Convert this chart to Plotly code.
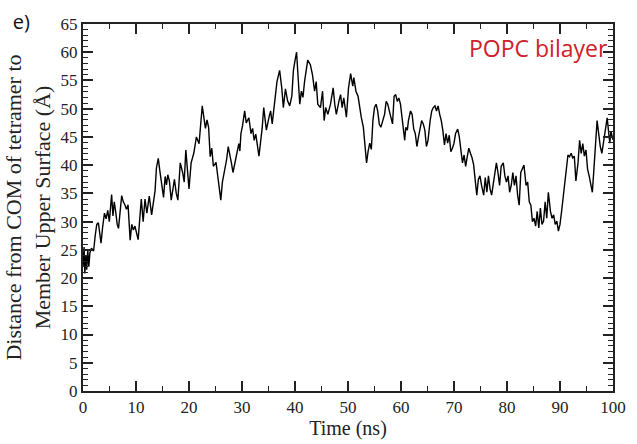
import plotly.graph_objects as go

# Time (ns) and distance (Å)
time_ns = [
    0.0, 0.2, 0.35, 0.55, 0.7, 0.9, 1.1, 1.3, 1.6, 2.0, 2.3, 2.6, 2.9, 3.1, 3.4, 3.7, 4.05, 4.36, 4.67, 4.97,
    5.4, 5.65, 5.9, 6.2, 6.45, 6.7, 7.0, 7.3, 7.6, 7.9, 8.2, 8.5, 8.9, 9.2, 9.5, 9.8, 10.1, 10.4, 10.75, 11.0,
    11.35, 11.7, 12.05, 12.5, 12.95, 13.3, 13.6, 13.85, 14.0, 14.2, 14.5, 14.8, 15.2, 15.5, 15.75, 16.0, 16.3, 16.65,
    17.25, 17.6, 17.9, 18.35, 18.8, 19.1, 19.4, 20.0, 20.4, 20.9, 21.4, 21.9, 22.2, 22.5, 22.8, 23.1, 23.4, 23.7,
    24.0, 24.3, 24.6, 25.1, 25.5, 26.0, 26.3, 26.8, 27.1, 27.4, 27.7, 28.0, 28.3, 28.6, 28.9, 29.4, 29.6, 29.8,
    30.1, 30.5, 30.8, 31.3, 31.7, 32.0, 32.3, 32.6, 33.2, 33.5, 33.8, 34.1, 34.6, 35.1, 35.4, 35.7, 36.2, 36.6,
    37.1, 37.5, 37.8, 38.2, 38.6, 39.0, 39.4, 39.7, 40.0, 40.3, 40.6, 40.9, 41.2, 41.5, 41.8, 42.1, 42.4, 42.9,
    43.3, 43.7, 44.0, 44.3, 44.8, 45.2, 45.5, 45.8, 46.2, 46.7, 47.2, 47.5, 47.8, 48.3, 48.6, 48.9, 49.2, 49.7,
    50.1, 50.5, 50.9, 51.1, 51.5, 51.9, 52.2, 52.5, 52.9, 53.2, 53.5, 53.8, 54.1, 54.4, 54.7, 55.0, 55.3, 55.6,
    55.9, 56.2, 56.5, 56.9, 57.2, 57.5, 57.8, 58.1, 58.4, 58.7, 59.0, 59.3, 59.6, 59.9, 60.2, 60.5, 60.7, 60.9,
    61.2, 61.4, 61.8, 62.1, 62.4, 62.7, 63.0, 63.3, 63.6, 63.9, 64.2, 64.5, 64.8, 65.1, 65.5, 65.8, 66.1, 66.4,
    66.7, 67.0, 67.3, 67.6, 67.9, 68.2, 68.5, 68.8, 69.1, 69.4, 69.7, 70.0, 70.3, 70.7, 71.0, 71.3, 71.6, 71.9,
    72.2, 72.5, 72.8, 73.1, 73.4, 73.7, 74.0, 74.3, 74.6, 74.9, 75.2, 75.6, 75.9, 76.2, 76.5, 76.8, 77.1, 77.4,
    77.7, 78.0, 78.3, 78.6, 78.9, 79.3, 79.6, 79.9, 80.2, 80.5, 80.8, 81.1, 81.4, 81.7, 82.0, 82.3, 82.6, 82.9,
    83.2, 83.6, 83.9, 84.2, 84.5, 84.8, 85.1, 85.4, 85.7, 86.0, 86.3, 86.6, 86.9, 87.2, 87.5, 87.8, 88.2, 88.5,
    88.8, 89.1, 89.4, 89.7, 90.0, 90.3, 90.6, 90.9, 91.2, 91.5, 91.8, 92.1, 92.4, 92.7, 93.0, 93.4, 93.7, 94.0,
    94.3, 94.6, 94.9, 95.2, 95.5, 95.8, 96.1, 96.4, 96.7, 97.0, 97.3, 97.6, 97.9, 98.2, 98.6, 98.9, 99.2, 99.4,
    99.6, 100.0,
]
distance_A = [
    22.0, 25.5, 20.8, 24.0, 21.5, 25.0, 22.0, 24.5, 25.3, 24.8, 27.5, 29.5, 29.8, 28.0, 26.2, 29.0, 31.5, 30.5, 32.0, 30.0,
    34.8, 31.0, 33.5, 31.5, 29.5, 28.8, 31.5, 34.6, 33.5, 33.0, 32.2, 33.0, 26.7, 29.5, 28.5, 29.2, 28.0, 26.8, 31.0, 34.0,
    30.0, 34.0, 31.5, 34.5, 31.2, 33.5, 35.5, 39.5, 40.2, 41.2, 39.0, 37.0, 34.3, 38.0, 36.5, 38.3, 37.2, 33.8,
    37.5, 35.0, 33.8, 40.4, 38.7, 37.0, 42.7, 35.8, 40.4, 42.1, 45.0, 43.8, 47.5, 50.5, 48.5, 46.5, 48.0, 46.7,
    41.5, 43.0, 39.8, 40.5, 37.5, 33.8, 37.0, 39.2, 41.0, 43.3, 42.0, 40.4, 38.7, 40.0, 41.5, 43.8, 42.5, 45.6,
    47.0, 49.6, 47.5, 48.4, 45.6, 46.5, 44.4, 45.5, 41.6, 44.0, 46.5, 50.2, 46.2, 48.5, 49.6, 47.3, 51.4, 54.8,
    56.8, 53.7, 50.2, 53.5, 51.4, 50.5, 52.2, 56.8, 58.5, 60.0, 55.4, 50.8, 53.1, 52.0, 54.8, 56.5, 58.6, 57.8,
    56.0, 53.1, 54.8, 50.8, 50.2, 53.1, 47.9, 50.2, 49.0, 50.8, 53.7, 50.8, 49.0, 51.4, 52.5, 50.2, 51.9, 48.5,
    53.7, 56.2, 54.0, 55.5, 53.1, 52.2, 50.2, 48.5, 46.7, 43.3, 40.4, 42.5, 43.9, 42.8, 47.9, 50.2, 50.8, 49.6,
    47.3, 46.7, 47.9, 49.0, 51.3, 50.8, 49.6, 48.5, 47.3, 52.2, 52.5, 51.3, 51.9, 50.8, 48.5, 46.7, 44.4, 46.7,
    46.2, 47.9, 49.6, 49.0, 46.4, 45.6, 43.3, 45.0, 46.2, 47.9, 47.3, 46.2, 43.3, 44.4, 47.9, 49.6, 50.2, 50.5,
    49.6, 50.5, 49.0, 47.9, 46.1, 43.6, 45.6, 43.9, 45.3, 42.4, 43.0, 43.9, 45.6, 46.4, 45.0, 42.1, 40.4, 41.8,
    39.8, 41.5, 43.0, 42.1, 41.3, 40.1, 36.9, 34.7, 37.5, 38.1, 36.4, 34.7, 37.8, 35.2, 38.1, 35.8, 34.7, 36.4,
    38.7, 40.4, 38.7, 36.4, 39.8, 40.4, 38.1, 37.0, 38.1, 35.2, 36.4, 38.7, 36.4, 38.1, 34.7, 32.9, 38.7, 39.3,
    40.0, 36.4, 37.0, 33.5, 32.9, 30.0, 30.6, 29.2, 31.8, 28.9, 32.4, 29.5, 30.1, 33.5, 30.6, 35.2, 31.8, 30.6,
    31.2, 29.5, 30.1, 28.3, 29.5, 31.8, 34.1, 36.4, 39.2, 41.8, 41.5, 42.1, 41.3, 41.6, 37.2, 40.4, 44.4, 42.1,
    43.8, 41.6, 42.7, 39.3, 38.1, 36.4, 35.2, 39.3, 44.4, 47.9, 45.6, 43.3, 42.1, 43.9, 46.7, 48.4, 45.6, 43.9,
    46.0, 44.5,
]

x_ticks = list(range(0, 101, 10))
y_ticks = list(range(0, 66, 5))
x_minor_step = 5
y_minor_step = 1

serif = "Liberation Serif, Times New Roman, serif"
sans = "Open Sans, Lato, sans-serif"
axis_col = "#222222"

fig = go.Figure(go.Scatter(x=time_ns, y=distance_A, mode="lines",
                           line=dict(color="black", width=1.4)))

fig.update_xaxes(
    range=[x_ticks[0], x_ticks[-1]], tick0=x_ticks[0], dtick=x_ticks[1] - x_ticks[0],
    showline=True, linecolor=axis_col, linewidth=2, mirror="ticks",
    ticks="inside", ticklen=10, tickwidth=1.6, tickcolor=axis_col,
    minor=dict(dtick=x_minor_step, ticks="inside", ticklen=5, tickwidth=1.4, tickcolor=axis_col),
    showgrid=False, zeroline=False,
    tickfont=dict(family=serif, size=17, color="#222222"),
    title=dict(text="Time (ns)", standoff=2, font=dict(family=serif, size=20, color="#222222")),
)
fig.update_yaxes(
    range=[y_ticks[0], y_ticks[-1]], tick0=y_ticks[0], dtick=y_ticks[1] - y_ticks[0],
    showline=True, linecolor=axis_col, linewidth=2, mirror="ticks",
    ticks="inside", ticklen=10, tickwidth=1.6, tickcolor=axis_col,
    minor=dict(dtick=y_minor_step, ticks="inside", ticklen=5, tickwidth=1.4, tickcolor=axis_col),
    showgrid=False, zeroline=False,
    tickfont=dict(family=serif, size=17, color="#222222"),
    title=dict(text="Distance from COM of tetramer to<br>Member Upper Surface (Å)", standoff=4,
               font=dict(family=serif, size=22, color="#222222")),
)

fig.update_layout(
    width=637, height=444,
    margin=dict(l=83, r=11, t=24, b=43),
    paper_bgcolor="white", plot_bgcolor="white",
    showlegend=False,
    title=dict(text="e)", x=0.02, xanchor="left", xref="container",
               y=0.95, yanchor="middle", yref="container",
               font=dict(family=sans, size=20, color="#111111")),
    annotations=[
        dict(text="POPC bilayer", xref="paper", yref="paper", x=0.995, y=0.935,
             xanchor="right", yanchor="middle", showarrow=False,
             font=dict(family=sans, size=23, color="#d0202a")),
    ],
)

fig.write_html("out.html")
